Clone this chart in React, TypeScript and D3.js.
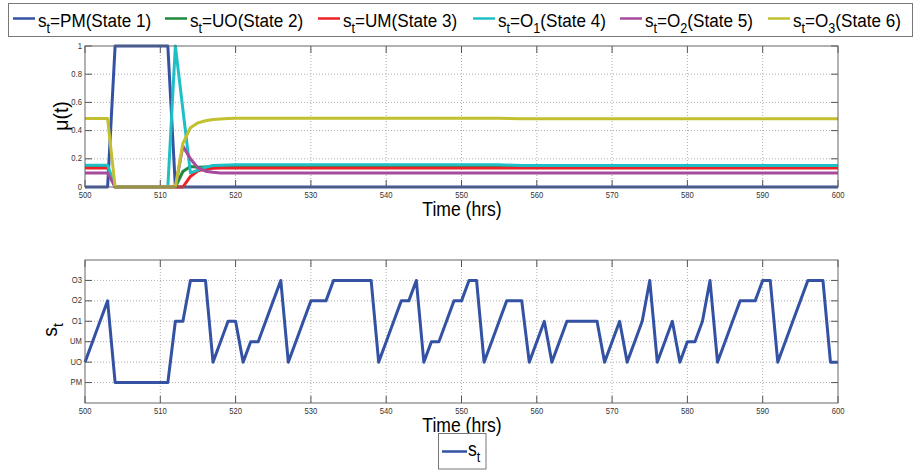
import React from 'react';
import * as d3 from 'd3';

// ---- data ----
const muTimes = [500, 503, 504, 511, 512, 513, 514, 515, 516, 517, 518, 519, 520, 525, 555, 558, 600];
const muPM = [0, 0, 1, 1, 0, 0, 0, 0, 0, 0, 0, 0, 0, 0, 0, 0, 0];
const muUO = [0.145, 0.145, 0, 0, 0, 0.11, 0.145, 0.14, 0.142, 0.144, 0.145, 0.145, 0.145, 0.145, 0.145, 0.145, 0.145];
const muUM = [0.135, 0.135, 0, 0, 0, 0, 0.075, 0.115, 0.128, 0.133, 0.135, 0.135, 0.135, 0.135, 0.135, 0.135, 0.135];
const muO1 = [0.155, 0.155, 0, 0, 1, 0.55, 0.1, 0.12, 0.14, 0.152, 0.155, 0.156, 0.157, 0.157, 0.157, 0.153, 0.153];
const muO2 = [0.1, 0.1, 0, 0, 0, 0.29, 0.2, 0.135, 0.112, 0.104, 0.1, 0.1, 0.1, 0.1, 0.1, 0.1, 0.1];
const muO3 = [0.485, 0.485, 0, 0, 0, 0.31, 0.42, 0.455, 0.47, 0.478, 0.482, 0.485, 0.487, 0.488, 0.488, 0.484, 0.484];

const stateStart = 500;
const stateSeq = [
  2, 3, 4, 5, 1, 1, 1, 1, 1, 1, 1, 1, 4, 4, 6, 6, 6, 2, 3, 4,
  4, 2, 3, 3, 4, 5, 6, 2, 3, 4, 5, 5, 5, 6, 6, 6, 6, 6, 6, 2,
  3, 4, 5, 5, 6, 2, 3, 3, 4, 5, 5, 6, 6, 2, 3, 4, 5, 5, 5, 2,
  3, 4, 2, 3, 4, 4, 4, 4, 4, 2, 3, 4, 2, 3, 4, 6, 2, 3, 4, 2,
  3, 3, 4, 6, 2, 3, 4, 5, 5, 5, 6, 6, 2, 3, 4, 5, 6, 6, 6, 2,
  2,
];
const stateLabels = ['PM', 'UO', 'UM', 'O1', 'O2', 'O3'];
const stateLevels = [1, 2, 3, 4, 5, 6];
const timeTicks = [500, 510, 520, 530, 540, 550, 560, 570, 580, 590, 600];
const muTicks = [0, 0.2, 0.4, 0.6, 0.8, 1];

const seriesNames = ['PM', 'UO', 'UM', 'O', 'O', 'O'];
const seriesSubs = ['', '', '', '1', '2', '3'];
const seriesStates = ['1', '2', '3', '4', '5', '6'];
const seriesColors = ['#3452a4', '#1e8a3c', '#ec2226', '#1fbfc6', '#a64a9e', '#c2c030'];
const muSeries = [muPM, muUO, muUM, muO1, muO2, muO3];

// ---- layout ----
const W = 914, H = 470;
const X0 = 85, X1 = 838;
const T1 = { top: 46, bottom: 187 };
const T2 = { top: 260, bottom: 403 };
const TICK = 7;
const FONT = 'Liberation Sans, Arial, Helvetica, sans-serif';
const SX = 0.9;

const legendX = [13, 165, 318, 473, 620, 768];

function HText({ x, y, size, anchor = 'start', fill = '#000', children }: any) {
  return (
    <text transform={`translate(${x},${y}) scale(${SX},1)`} fontSize={size} fontFamily={FONT} textAnchor={anchor} fill={fill}>
      {children}
    </text>
  );
}

function Frame({ top, bottom, yScale, yTicks, yLabels }: any) {
  const x = d3.scaleLinear().domain([500, 600]).range([X0, X1]);
  return (
    <g>
      {timeTicks.slice(1, -1).map((t) => (
        <line key={'gx' + t} x1={x(t)} x2={x(t)} y1={top} y2={bottom} stroke="#9a9a9a" strokeWidth={0.8} strokeDasharray="1,2" />
      ))}
      {yTicks.map((v: number) => {
        const yy = yScale(v);
        if (Math.abs(yy - top) < 1 || Math.abs(yy - bottom) < 1) return null;
        return <line key={'gy' + v} x1={X0} x2={X1} y1={yy} y2={yy} stroke="#9a9a9a" strokeWidth={0.8} strokeDasharray="1,2" />;
      })}
      {timeTicks.map((t) => (
        <g key={'tx' + t}>
          <line x1={x(t)} x2={x(t)} y1={bottom} y2={bottom - TICK} stroke="#555" strokeWidth={1} />
          <line x1={x(t)} x2={x(t)} y1={top} y2={top + TICK} stroke="#555" strokeWidth={1} />
          <HText x={x(t)} y={bottom + 10.5} size={8.5} anchor="middle" fill="#333">{String(t)}</HText>
        </g>
      ))}
      {yTicks.map((v: number, i: number) => (
        <g key={'ty' + v}>
          <line x1={X0} x2={X0 + TICK} y1={yScale(v)} y2={yScale(v)} stroke="#555" strokeWidth={1} />
          <line x1={X1} x2={X1 - TICK} y1={yScale(v)} y2={yScale(v)} stroke="#555" strokeWidth={1} />
          <HText x={X0 - 3} y={yScale(v) + 2.5} size={8.5} anchor="end" fill="#333">{yLabels[i]}</HText>
        </g>
      ))}
    </g>
  );
}

export default function App() {
  const x = d3.scaleLinear().domain([500, 600]).range([X0, X1]);
  const y1 = d3.scaleLinear().domain([0, 1]).range([T1.bottom, T1.top]);
  const y2 = d3.scaleLinear().domain([0, 7]).range([T2.bottom, T2.top]);

  const muLine = d3.line<number>().x((_, i) => x(muTimes[i])).y((d) => y1(d));
  const stLine = d3.line<number>().x((_, i) => x(stateStart + i)).y((d) => y2(d));

  return (
    <svg width={W} height={H} style={{ position: 'absolute', left: 0, top: 0, background: '#fff' }}>
      <rect x={0} y={0} width={W} height={H} fill="#fff" />

      {/* top legend */}
      <rect x={8.5} y={3.5} width={904} height={33} fill="#fff" stroke="#777" strokeWidth={1} />
      {seriesNames.map((n, i) => (
        <g key={'lg' + i}>
          <line x1={legendX[i]} x2={legendX[i] + 22} y1={18.5} y2={18.5} stroke={seriesColors[i]} strokeWidth={2.5} />
          <text transform={`translate(${legendX[i] + 25},26.5) scale(${SX},1)`} fontSize={19} fontFamily={FONT} fill="#000">
            <tspan>s</tspan>
            <tspan dy={6} fontSize={14}>t</tspan>
            <tspan dy={-6}>{'=' + n}</tspan>
            {seriesSubs[i] ? (
              <>
                <tspan dy={6} fontSize={14}>{seriesSubs[i]}</tspan>
                <tspan dy={-6}>{`(State ${seriesStates[i]})`}</tspan>
              </>
            ) : (
              <tspan>{`(State ${seriesStates[i]})`}</tspan>
            )}
          </text>
        </g>
      ))}

      {/* top plot */}
      <rect x={X0} y={T1.top} width={X1 - X0} height={T1.bottom - T1.top} fill="#fff" />
      <Frame top={T1.top} bottom={T1.bottom} yScale={y1} yTicks={muTicks} yLabels={muTicks.map((v) => String(v))} />
      {muSeries.map((s, i) => (
        <path key={'mu' + i} d={muLine(s) || ''} fill="none" stroke={seriesColors[i]} strokeWidth={3} strokeLinejoin="round" />
      ))}
      <rect x={X0} y={T1.top} width={X1 - X0} height={T1.bottom - T1.top} fill="none" stroke="#666" strokeWidth={1} />
      <text transform={`translate(68,116) rotate(-90)`} fontSize={19.5} fontFamily={FONT} textAnchor="middle">μ(t)</text>
      <HText x={462} y={216} size={19.5} anchor="middle">Time (hrs)</HText>

      {/* bottom plot */}
      <rect x={X0} y={T2.top} width={X1 - X0} height={T2.bottom - T2.top} fill="#fff" />
      <Frame top={T2.top} bottom={T2.bottom} yScale={y2} yTicks={stateLevels} yLabels={stateLabels} />
      <path d={stLine(stateSeq) || ''} fill="none" stroke={seriesColors[0]} strokeWidth={3} strokeLinejoin="round" />
      <rect x={X0} y={T2.top} width={X1 - X0} height={T2.bottom - T2.top} fill="none" stroke="#666" strokeWidth={1} />
      <text transform={`translate(57,330) rotate(-90)`} fontSize={19.5} fontFamily={FONT} textAnchor="middle">
        <tspan>s</tspan>
        <tspan dy={6} fontSize={14}>t</tspan>
      </text>
      <HText x={462} y={432} size={19.5} anchor="middle">Time (hrs)</HText>

      {/* bottom legend */}
      <rect x={438.5} y={433.5} width={47.5} height={35.5} fill="#fff" stroke="#777" strokeWidth={1} />
      <line x1={442} x2={467} y1={451.5} y2={451.5} stroke={seriesColors[0]} strokeWidth={2.5} />
      <text transform={`translate(468,456) scale(${SX},1)`} fontSize={19.5} fontFamily={FONT}>
        <tspan>s</tspan>
        <tspan dy={6} fontSize={14}>t</tspan>
      </text>
    </svg>
  );
}
